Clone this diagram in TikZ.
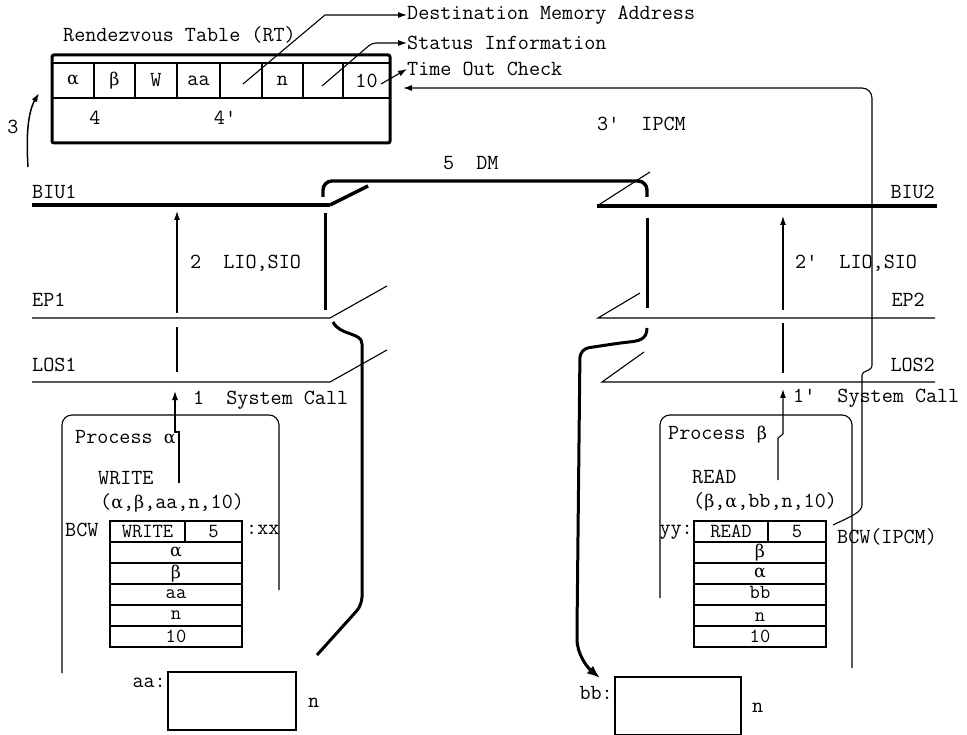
\documentclass[tikz,border=0pt]{standalone}
\usepackage{fontspec}
\newfontfamily\grkfont{DejaVu Serif}
\newcommand\myal{{\grkfont\fontsize{17.5}{19}\selectfont α}}
\newcommand\mybe{{\grkfont\fontsize{17.5}{19}\selectfont β}}
\usetikzlibrary{arrows.meta}
\begin{document}
\begin{tikzpicture}[x=1pt,y=-1pt,
  txt/.style={font=\ttfamily\fontsize{21.5}{23}\selectfont, inner sep=0pt},
  tabtxt/.style={font=\ttfamily\fontsize{20}{21}\selectfont, inner sep=0pt},
  lbl/.style={txt, anchor=west},
  rlbl/.style={txt, anchor=east},
  thinline/.style={line width=1.1pt},
  midline/.style={line width=1.5pt},
  heavy/.style={line width=3.4pt},
  tip/.style={-{Latex[length=9,width=6]}},
  bigtip/.style={-{Latex[length=13,width=10]}},
  cell/.style={draw, line width=1.4pt, minimum height=21, inner sep=0pt},
  procbox/.style={thinline, rounded corners=10}]
\useasboundingbox (0,0) rectangle (967,735);

% ---------------- Rendezvous table ----------------
\node[lbl] (rttitle) at (63,35) {Rendezvous Table (RT)};
\node[draw, line width=3pt, rounded corners=2pt, minimum width=338, minimum height=88, inner sep=0pt] (rt) at (221,99) {};
\draw[midline] (52,63) -- (390,63);
\draw[midline] (52,98) -- (390,98);
\foreach \xx in {94,135,177,220,262,303,343} \draw[thinline] (\xx,63) -- (\xx,98);
\node[txt] (c1) at (73,80.5) {\myal};
\node[txt] (c2) at (114.5,80.5) {\mybe};
\node[txt] (c3) at (156,80.5) {W};
\node[txt] (c4) at (198.5,80.5) {aa};
\node[txt] (c6) at (282.5,80.5) {n};
\node[txt] (c8) at (366.5,80.5) {10};
\node[txt] (f4) at (95,118) {4};
\node[txt] (f4p) at (225,118) {4'};

\node[lbl] (dest) at (407,15) {Destination Memory Address};
\node[lbl] (stat) at (407,43) {Status Information};
\node[lbl] (tout) at (407,69) {Time Out Check};
\coordinate (l5) at (243,84);
\coordinate (l7) at (322,86);
\coordinate (l8) at (381,84);
\draw[thinline, tip] (l5) -- (325,15) -- (dest.west);
\draw[thinline, tip, rounded corners=4] (l7) -- (372,43) -- (stat.west);
\draw[thinline, tip] (l8) -- (tout.west);

% arrow 3
\coordinate (a3s) at (28,167);
\coordinate (a3e) at (39,93);
\draw[midline, tip] (a3s) .. controls (26,135) and (28,112) .. (a3e);
\node[txt] (n3) at (13,127) {3};

% ---------------- layer lines ----------------
\node[lbl] (biu1) at (32,192) {BIU1};
\node[lbl] (ep1) at (32,300) {EP1};
\node[lbl] (los1) at (32,365) {LOS1};
\node[rlbl] (biu2) at (935,192) {BIU2};
\node[rlbl] (ep2) at (925,300) {EP2};
\node[rlbl] (los2) at (935,365) {LOS2};

\draw[heavy] (32,205) -- (330,205);
\draw[heavy] (330,205) -- (368,186);
\draw[heavy] (597,206) -- (937,206);
\draw[thinline] (597,206) -- (650,172);

\draw[thinline] (32,318) -- (330,318) -- (387,286);
\draw[thinline] (32,382) -- (330,382) -- (387,350);
\draw[thinline] (640,293) -- (598,318) -- (935,318);
\draw[thinline] (644,352) -- (602,382) -- (935,382);

% DM bracket
\node[lbl] (dm) at (443,163) {5~~DM};
\draw[heavy, rounded corners=9] (323,197) -- (323,181) -- (647,181) -- (647,197);
\draw[line width=3pt] (325,213) -- (325,310);
\draw[line width=3pt] (647,218) -- (647,308);

% thick path down to aa
\draw[line width=3pt, rounded corners=8] (333,322) .. controls (340,336) and (362,332) .. (362,352) -- (362,605) -- (317,655);
% thick path down to bb
\draw[line width=3pt, rounded corners=9, bigtip] (647,328) .. controls (647,340) and (638,341) .. (620,343) -- (580,349) -- (577,630) .. controls (577,655) and (588,668) .. (600,678);

% vertical arrows, left
\node[lbl] (lab2) at (190,263) {2~~LIO,SIO};
\draw[thinline, tip] (177,313) -- (177,211);
\draw[thinline] (177,327) -- (177,372);
\node[lbl] (lab1) at (193,400) {1~~System Call};
\draw[thinline, tip] (179,483) -- (179,432) -- (175,432) -- (175,391);

% vertical arrows, right
\node[lbl] (lab2p) at (795,263) {2'~~LIO,SIO};
\draw[thinline, tip] (783,310) -- (783,216);
\draw[thinline] (783,323) -- (783,373);
\node[lbl] (lab1p) at (793,398) {1'~~System Call};
\draw[thinline, tip] (778,480) -- (778,438) -- (783,434) -- (783,389);

% IPCM
\node[lbl] (ipcm) at (597,124) {3'~~IPCM};
\coordinate (ipcms) at (833,525);
\coordinate (ipcme) at (403,88);
\draw[thinline, tip, rounded corners=10] (ipcms) .. controls (852,516) and (862,512) .. (862,495) -- (862,385) .. controls (862,370) and (872,372) .. (872,355) -- (872,88) -- (ipcme);

% ---------------- Process alpha ----------------
\draw[procbox] (62,673) -- (62,415) -- (279,415) -- (279,590);
\node[lbl] (pa) at (75,437) {Process \myal};
\node[lbl] (wr) at (98,478) {WRITE};
\node[lbl] (wargs) at (100,503) {(\myal,\mybe,aa,n,10)};
\node[lbl] (bcw) at (65,530) {BCW};
\node[cell, minimum width=75] (wa) at (147.5,531.5) {};
\node[cell, minimum width=57] (wb) at (213.5,531.5) {};
\node[cell, minimum width=132] (w1) at (176,552.5) {};
\node[cell, minimum width=132] (w2) at (176,573.5) {};
\node[cell, minimum width=132] (w3) at (176,594.5) {};
\node[cell, minimum width=132] (w4) at (176,615.5) {};
\node[cell, minimum width=132] (w5) at (176,636.5) {};
\node[tabtxt] (wat) at (wa) {WRITE};
\node[tabtxt] (wbt) at (wb) {5};
\node[tabtxt] (w1t) at (w1) {\myal};
\node[tabtxt] (w2t) at (w2) {\mybe};
\node[tabtxt] (w3t) at (w3) {aa};
\node[tabtxt] (w4t) at (w4) {n};
\node[tabtxt] (w5t) at (w5) {10};
\node[lbl] (xx) at (246,530) {:xx};
\node[draw, line width=1.4pt, minimum width=128, minimum height=58, inner sep=0pt] (aabox) at (232,701) {};
\node[rlbl] (aal) at (166,683) {aa:};
\node[lbl] (an) at (308,703) {n};

% ---------------- Process beta ----------------
\draw[procbox] (660,598) -- (660,415) -- (852,415) -- (852,668);
\node[lbl] (pb) at (668,435) {Process \mybe};
\node[lbl] (rd) at (692,477) {READ};
\node[lbl] (rargs) at (693,502) {(\mybe,\myal,bb,n,10)};
\node[rlbl] (yy) at (693,532) {yy:};
\node[cell, minimum width=74] (ra) at (731,531.5) {};
\node[cell, minimum width=58] (rb) at (797,531.5) {};
\node[cell, minimum width=132] (r1) at (760,552.5) {};
\node[cell, minimum width=132] (r2) at (760,573.5) {};
\node[cell, minimum width=132] (r3) at (760,594.5) {};
\node[cell, minimum width=132] (r4) at (760,615.5) {};
\node[cell, minimum width=132] (r5) at (760,636.5) {};
\node[tabtxt] (rat) at (ra) {READ};
\node[tabtxt] (rbt) at (rb) {5};
\node[tabtxt] (r1t) at (r1) {\mybe};
\node[tabtxt] (r2t) at (r2) {\myal};
\node[tabtxt] (r3t) at ([yshift=2pt]r3.center) {bb};
\node[tabtxt] (r4t) at ([yshift=-2pt]r4.center) {n};
\node[tabtxt] (r5t) at (r5) {10};
\node[lbl] (bcwi) at (837,537) {BCW(IPCM)};
\node[draw, line width=1.4pt, minimum width=126, minimum height=58, inner sep=0pt] (bbbox) at (678,706) {};
\node[rlbl] (bbl) at (613,693) {bb:};
\node[lbl] (bn) at (752,708) {n};
\end{tikzpicture}
\end{document}
